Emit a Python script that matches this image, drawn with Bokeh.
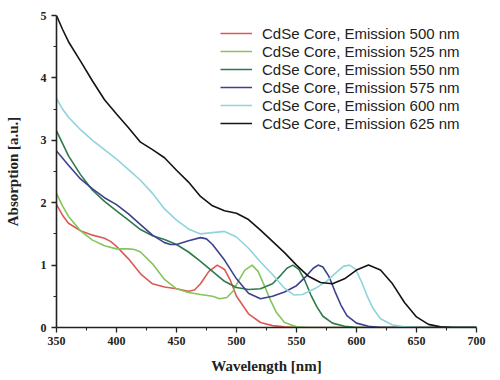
from bokeh.plotting import figure
from bokeh.models import Range1d, Legend, LegendItem, FixedTicker
from bokeh.embed import file_html
from bokeh.resources import INLINE

# ---- data ----
labels = ["CdSe Core, Emission 500 nm", "CdSe Core, Emission 525 nm",
          "CdSe Core, Emission 550 nm", "CdSe Core, Emission 575 nm",
          "CdSe Core, Emission 600 nm", "CdSe Core, Emission 625 nm"]
colors = ["#dc5a55", "#86c45c", "#2f7a4c", "#3d418e", "#8fd4dc", "#141414"]

wl_500 = [350, 355, 360, 370, 380, 390, 395, 400, 410, 420, 430, 440, 450, 460, 465, 470, 477, 484, 490, 495, 500, 510, 520, 530, 540, 550, 700]
ab_500 = [1.97, 1.80, 1.67, 1.55, 1.48, 1.43, 1.38, 1.30, 1.10, 0.86, 0.70, 0.65, 0.62, 0.58, 0.60, 0.70, 0.90, 1.00, 0.93, 0.75, 0.50, 0.22, 0.08, 0.03, 0.01, 0.0, 0.0]

wl_525 = [350, 355, 360, 370, 380, 390, 400, 410, 415, 420, 430, 440, 450, 460, 470, 480, 486, 492, 497, 502, 507, 513, 518, 523, 528, 533, 540, 550, 560, 700]
ab_525 = [2.15, 1.95, 1.78, 1.55, 1.40, 1.31, 1.26, 1.26, 1.25, 1.21, 1.02, 0.77, 0.62, 0.56, 0.53, 0.50, 0.46, 0.48, 0.58, 0.76, 0.92, 1.00, 0.90, 0.68, 0.45, 0.25, 0.08, 0.01, 0.0, 0.0]

wl_550 = [350, 355, 360, 370, 380, 390, 400, 410, 420, 430, 440, 450, 460, 470, 480, 490, 500, 510, 520, 530, 537, 542, 547, 552, 557, 562, 567, 572, 580, 590, 600, 700]
ab_550 = [3.15, 2.95, 2.75, 2.45, 2.20, 2.02, 1.87, 1.72, 1.57, 1.47, 1.41, 1.33, 1.21, 1.06, 0.90, 0.74, 0.64, 0.61, 0.62, 0.70, 0.84, 0.95, 1.00, 0.93, 0.75, 0.52, 0.33, 0.18, 0.07, 0.02, 0.0, 0.0]

wl_575 = [350, 360, 370, 380, 390, 400, 410, 420, 430, 440, 445, 450, 460, 470, 475, 480, 490, 500, 510, 520, 530, 540, 550, 558, 564, 568, 572, 577, 582, 587, 592, 600, 610, 620, 700]
ab_575 = [2.83, 2.60, 2.38, 2.22, 2.08, 1.97, 1.82, 1.65, 1.48, 1.36, 1.33, 1.33, 1.39, 1.44, 1.42, 1.33, 1.08, 0.78, 0.55, 0.46, 0.50, 0.57, 0.67, 0.82, 0.95, 1.00, 0.97, 0.82, 0.58, 0.36, 0.19, 0.07, 0.02, 0.0, 0.0]

wl_600 = [350, 355, 360, 370, 380, 390, 400, 410, 420, 430, 440, 450, 460, 470, 480, 490, 500, 510, 520, 530, 540, 548, 555, 565, 575, 583, 589, 594, 599, 604, 609, 614, 620, 630, 640, 650, 700]
ab_600 = [3.67, 3.50, 3.37, 3.17, 3.00, 2.85, 2.70, 2.53, 2.36, 2.15, 1.90, 1.72, 1.58, 1.50, 1.52, 1.54, 1.45, 1.27, 1.05, 0.85, 0.63, 0.52, 0.53, 0.62, 0.74, 0.88, 0.98, 1.00, 0.94, 0.74, 0.50, 0.30, 0.14, 0.04, 0.01, 0.0, 0.0]

wl_625 = [350, 355, 360, 370, 380, 390, 400, 410, 420, 430, 440, 450, 460, 470, 480, 490, 500, 510, 520, 530, 540, 550, 560, 570, 580, 590, 600, 610, 620, 630, 640, 650, 660, 670, 680, 700]
ab_625 = [5.00, 4.78, 4.58, 4.27, 3.95, 3.65, 3.42, 3.20, 2.97, 2.85, 2.72, 2.52, 2.33, 2.10, 1.95, 1.87, 1.83, 1.73, 1.56, 1.38, 1.20, 1.00, 0.82, 0.72, 0.70, 0.78, 0.92, 1.00, 0.92, 0.70, 0.40, 0.17, 0.05, 0.01, 0.0, 0.0]

series_x = [wl_500, wl_525, wl_550, wl_575, wl_600, wl_625]
series_y = [ab_500, ab_525, ab_550, ab_575, ab_600, ab_625]

x_ticks = [350, 400, 450, 500, 550, 600, 650, 700]
x_minor = [375, 425, 475, 525, 575, 625, 675]
y_ticks = [0, 1, 2, 3, 4, 5]
y_minor = [0.5, 1.5, 2.5, 3.5, 4.5]

# ---- figure ----
p = figure(width=495, height=376, output_backend="svg", toolbar_location=None,
           x_range=Range1d(350, 700), y_range=Range1d(0, 5),
           min_border_left=56, min_border_right=19, min_border_top=15, min_border_bottom=49)
p.outline_line_color = None
p.xgrid.visible = False
p.ygrid.visible = False
p.background_fill_color = "white"
p.border_fill_color = "white"

renderers = []
for xs, ys, c in zip(series_x, series_y, colors):
    r = p.line(xs, ys, line_color=c, line_width=1.6)
    renderers.append(r)

for ax in (p.xaxis[0], p.yaxis[0]):
    ax.axis_line_width = 1.6
    ax.axis_line_color = "#222222"
    ax.major_tick_line_color = "#222222"
    ax.minor_tick_line_color = "#222222"
    ax.major_tick_line_width = 1.3
    ax.minor_tick_line_width = 1.1
    ax.major_tick_out = 5
    ax.major_tick_in = 0
    ax.minor_tick_out = 3
    ax.minor_tick_in = 0
    ax.major_label_text_font = "Liberation Serif"
    ax.major_label_text_font_style = "bold"
    ax.major_label_text_font_size = "12px"
    ax.major_label_text_color = "#222222"
    ax.axis_label_text_font = "Liberation Serif"
    ax.axis_label_text_font_style = "bold"
    ax.axis_label_text_font_size = "15px"
    ax.axis_label_text_color = "#222222"

p.xaxis[0].ticker = FixedTicker(ticks=x_ticks, minor_ticks=x_minor)
p.yaxis[0].ticker = FixedTicker(ticks=y_ticks, minor_ticks=y_minor)
p.xaxis[0].axis_label = "Wavelength [nm]"
p.yaxis[0].axis_label = "Absorption [a.u.]"
p.xaxis[0].major_label_standoff = 4
p.xaxis[0].axis_label_standoff = 10
p.yaxis[0].major_label_standoff = 5
p.yaxis[0].axis_label_standoff = 17

legend = Legend(items=[LegendItem(label=l, renderers=[r]) for l, r in zip(labels, renderers)],
                location=(164, 195), border_line_color=None, background_fill_alpha=0,
                padding=0, spacing=0, margin=0, glyph_width=32, glyph_height=18,
                label_height=18, label_standoff=10,
                label_text_font="Liberation Sans", label_text_font_size="15px",
                label_text_color="#222222")
p.add_layout(legend)

open("out.html", "w").write(file_html(p, INLINE))
